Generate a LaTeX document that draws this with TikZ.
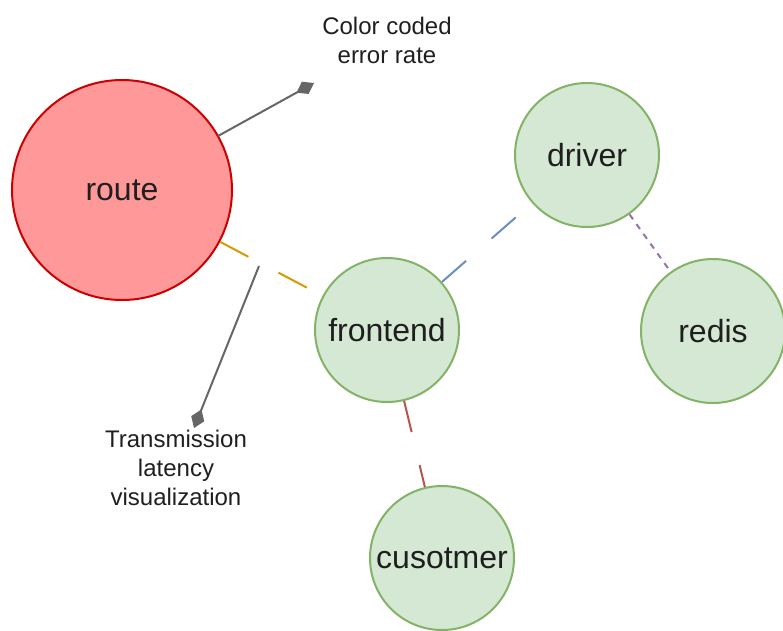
\documentclass[tikz,border=0pt]{standalone}
\usepackage{fontspec}
\setmainfont{Liberation Sans}
\usetikzlibrary{arrows.meta}
\definecolor{gfill}{HTML}{D5E8D4}
\definecolor{gline}{HTML}{82B366}
\definecolor{rfill}{HTML}{FF9999}
\definecolor{rline}{HTML}{CC0000}
\definecolor{corange}{HTML}{D79B00}
\definecolor{cblue}{HTML}{6C8EBF}
\definecolor{cpurple}{HTML}{9673A6}
\definecolor{cred}{HTML}{B85450}
\definecolor{cgray}{HTML}{666666}
\tikzset{
  svc/.style={circle, draw=gline, fill=gfill, line width=2pt, minimum size=144pt, inner sep=0pt},
  routec/.style={circle, draw=rline, fill=rfill, line width=2pt, minimum size=220pt, inner sep=0pt},
  lbl/.style={font=\fontsize{32}{38}\selectfont, text=black!88},
  annotext/.style={font=\fontsize{24}{29}\selectfont, align=center, text=black!88},
  longdash/.style={line width=2pt, dash pattern=on 32pt off 34pt},
  annot/.style={draw=cgray, line width=2pt, -{Diamond[length=20pt,width=14pt,fill=cgray]}}
}
\begin{document}
\begin{tikzpicture}[x=1pt,y=-1pt]
\useasboundingbox (0,0) rectangle (783,630);
\node[routec, label={[lbl]center:route}] (route) at (122,190) {};
\node[svc, label={[lbl]center:driver}] (driver) at (587,155) {};
\node[svc, label={[lbl]center:frontend}] (frontend) at (387,330) {};
\node[svc, label={[lbl]center:redis}] (redis) at (713,331) {};
\node[svc, label={[lbl]center:cusotmer}] (customer) at (442,558) {};

\draw[longdash, draw=corange] (route) -- (frontend);
\draw[longdash, draw=cblue] (frontend) -- (driver);
\draw[longdash, draw=cred] (frontend) -- (customer);
\draw[line width=2pt, draw=cpurple, dash pattern=on 6pt off 6pt] (driver) -- (redis);

\coordinate (a1s) at (218,136);
\coordinate (a1e) at (314,83);
\coordinate (a2s) at (259,266);
\coordinate (a2e) at (194,428);
\draw[annot] (a1s) -- (a1e);
\draw[annot] (a2s) -- (a2e);

\node[annotext] (t1) at (387,40) {Color coded\\error rate};
\node[annotext] (t2) at (176,468) {Transmission\\latency\\visualization};
\end{tikzpicture}
\end{document}
